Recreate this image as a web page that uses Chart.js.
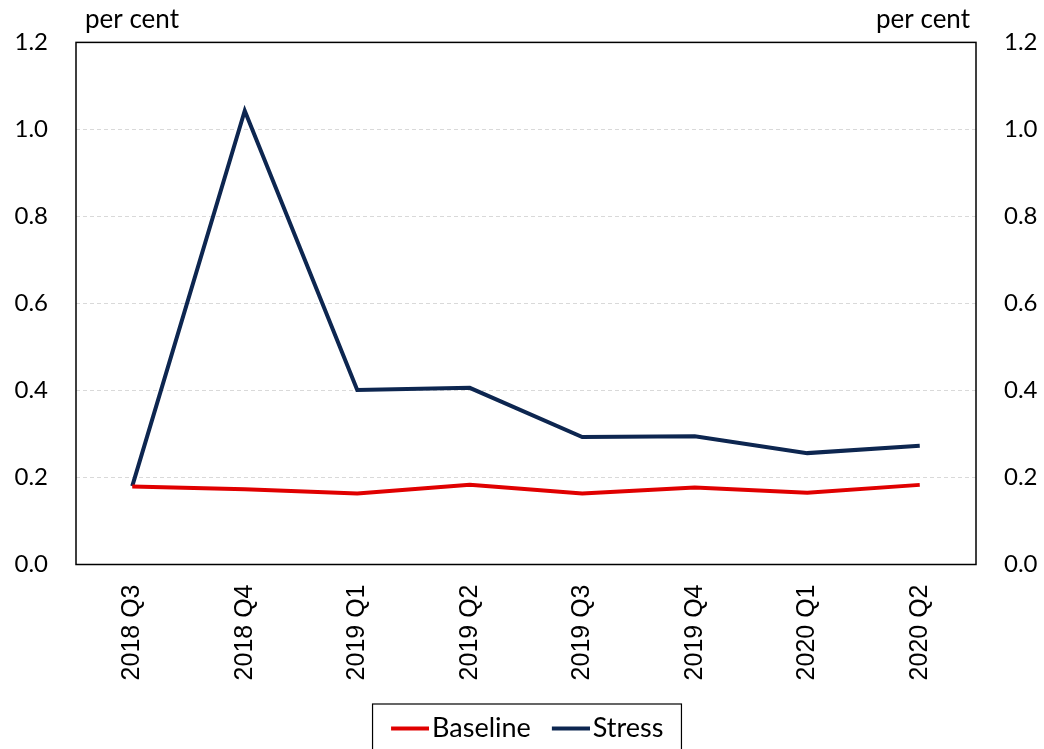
<!DOCTYPE html>
<html>
<head>
<meta charset="utf-8">
<script src="https://cdn.jsdelivr.net/npm/chart.js@4"></script>
<style>
html,body{margin:0;padding:0;background:#fff;}
#wrap{width:1044px;height:749px;}
</style>
</head>
<body>
<div id="wrap"><canvas id="c" width="1044" height="749"></canvas></div>
<script>
const categories = ['2018 Q3','2018 Q4','2019 Q1','2019 Q2','2019 Q3','2019 Q4','2020 Q1','2020 Q2'];
const baseline = [0.179, 0.173, 0.163, 0.183, 0.163, 0.177, 0.165, 0.183];
const stress = [0.180, 1.043, 0.401, 0.406, 0.293, 0.295, 0.256, 0.273];
const yTicks = [0, 0.2, 0.4, 0.6, 0.8, 1.0, 1.2];
const unitLabel = 'per cent';
const seriesColors = ['#e00000', '#0d2650'];

const CAL = 'Lato, "Open Sans", sans-serif';
const LEG_FONT = 27;

function lineSwatch(color) {
  const c = document.createElement('canvas');
  c.width = 59; c.height = 8;
  const g = c.getContext('2d');
  g.strokeStyle = color; g.lineWidth = 4;
  g.beginPath(); g.moveTo(21, 4); g.lineTo(59, 4); g.stroke();
  return c;
}

const framePlugin = {
  id: 'frame',
  afterDatasetsDraw(chart) {
    const {ctx, chartArea: a} = chart;
    ctx.save();
    ctx.strokeStyle = '#000';
    ctx.lineWidth = 1.5;
    ctx.strokeRect(a.left, a.top, a.right - a.left, a.bottom - a.top);
    ctx.fillStyle = '#000';
    ctx.font = '26px ' + CAL;
    ctx.textBaseline = 'alphabetic';
    ctx.textAlign = 'left';
    ctx.fillText(unitLabel, 85, 28);
    ctx.textAlign = 'right';
    ctx.fillText(unitLabel, 970, 28);
    const lg = chart.legend;
    if (lg && lg.legendHitBoxes && lg.legendHitBoxes.length) {
      const hb = lg.legendHitBoxes;
      const x0 = Math.min(...hb.map(h => h.left)) - 8;
      const x1 = Math.max(...hb.map(h => h.left + h.width)) + 18;
      ctx.lineWidth = 1.2;
      ctx.strokeRect(x0, 704, x1 - x0, 60);
    }
    ctx.restore();
  }
};

new Chart(document.getElementById('c'), {
  type: 'line',
  data: {
    labels: categories,
    datasets: [
      {label: 'Baseline', data: baseline, borderColor: seriesColors[0], backgroundColor: seriesColors[0], borderWidth: 4, pointRadius: 0, tension: 0, yAxisID: 'y'},
      {label: 'Stress', data: stress, borderColor: seriesColors[1], backgroundColor: seriesColors[1], borderWidth: 4, pointRadius: 0, tension: 0, yAxisID: 'y'}
    ]
  },
  options: {
    responsive: false,
    animation: false,
    devicePixelRatio: 1,
    layout: {padding: {top: 40, left: 0, right: 0, bottom: -3}},
    plugins: {
      legend: {
        position: 'bottom',
        labels: {
          font: {family: CAL, size: LEG_FONT},
          color: '#000',
          usePointStyle: true,
          pointStyleWidth: 38,
          boxHeight: 4,
          padding: 10.5,
          generateLabels(chart) {
            const items = Chart.defaults.plugins.legend.labels.generateLabels(chart);
            items.forEach((it, i) => { it.pointStyle = lineSwatch(seriesColors[i]); });
            return items;
          }
        }
      },
      tooltip: {enabled: false}
    },
    scales: {
      x: {
        offset: true,
        grid: {display: false, drawTicks: false},
        border: {display: false},
        ticks: {
          minRotation: 90, maxRotation: 90, autoSkip: false, padding: 20,
          color: '#000', font: {family: '"Liberation Sans", Arial, sans-serif', size: 25}
        },
        afterFit(s) { s.height = 140; }
      },
      y: {
        position: 'left', min: 0, max: 1.2,
        afterBuildTicks(s) { s.ticks = yTicks.map(v => ({value: v})); },
        grid: {
          color: ctx => (ctx.tick && (ctx.tick.value === 0 || ctx.tick.value === 1.2)) ? 'rgba(0,0,0,0)' : '#d9d9d9',
          lineWidth: 1, drawTicks: false
        },
        border: {display: false, dash: [4, 3]},
        ticks: {
          color: '#000', font: {family: CAL, size: 24}, padding: 28,
          callback: v => Number(v).toFixed(1)
        },
        afterFit(s) { s.width = 76; }
      },
      y2: {
        position: 'right', min: 0, max: 1.2,
        afterBuildTicks(s) { s.ticks = yTicks.map(v => ({value: v})); },
        grid: {display: false, drawTicks: false},
        border: {display: false},
        ticks: {
          color: '#000', font: {family: CAL, size: 24}, padding: 28,
          callback: v => Number(v).toFixed(1)
        },
        afterFit(s) { s.width = 68; }
      }
    }
  },
  plugins: [framePlugin]
});
</script>
</body>
</html>
